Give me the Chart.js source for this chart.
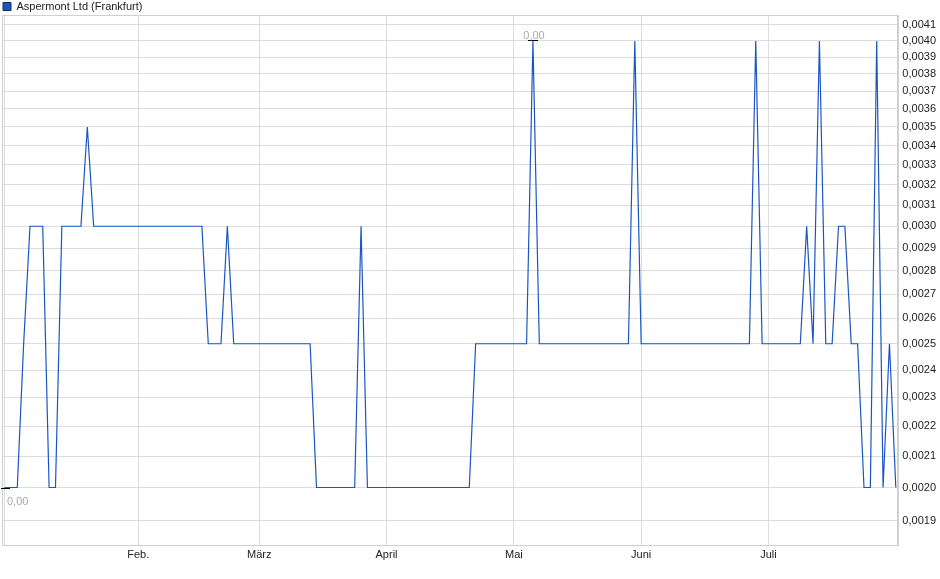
<!DOCTYPE html>
<html>
<head>
<meta charset="utf-8">
<style>
  body { margin: 0; background: #fff; }
  #wrap { width: 940px; height: 579px; position: relative; }
</style>
</head>
<body>
<div id="wrap"><canvas id="myChart"></canvas></div>

<script src="https://cdn.jsdelivr.net/npm/chart.js@4.4.1/dist/chart.umd.min.js"></script>
<script>
    const seriesName = "Aspermont Ltd (Frankfurt)";

    // closing prices, one per trading day, Jan .. Jul
    const janPrices = [0.0020,0.0020,0.0020,0.0025,0.0030,0.0030,0.0030,0.0020,0.0020,0.0030,0.0030,
                       0.0030,0.0030,0.0035,0.0030,0.0030,0.0030,0.0030,0.0030,0.0030,0.0030];
    const febPrices = [0.0030,0.0030,0.0030,0.0030,0.0030,0.0030,0.0030,0.0030,0.0030,0.0030,0.0030,
                       0.0025,0.0025,0.0025,0.0030,0.0025,0.0025,0.0025,0.0025];
    const marPrices = [0.0025,0.0025,0.0025,0.0025,0.0025,0.0025,0.0025,0.0025,0.0025,0.0020,
                       0.0020,0.0020,0.0020,0.0020,0.0020,0.0020,0.0030,0.0020,0.0020,0.0020];
    const aprPrices = [0.0020,0.0020,0.0020,0.0020,0.0020,0.0020,0.0020,0.0020,0.0020,0.0020,
                       0.0020,0.0020,0.0020,0.0020,0.0025,0.0025,0.0025,0.0025,0.0025,0.0025];
    const mayPrices = [0.0025,0.0025,0.0025,0.0040,0.0025,0.0025,0.0025,0.0025,0.0025,0.0025,
                       0.0025,0.0025,0.0025,0.0025,0.0025,0.0025,0.0025,0.0025,0.0025,0.0040];
    const junPrices = [0.0025,0.0025,0.0025,0.0025,0.0025,0.0025,0.0025,0.0025,0.0025,0.0025,
                       0.0025,0.0025,0.0025,0.0025,0.0025,0.0025,0.0025,0.0025,0.0040,0.0025];
    const julPrices = [0.0025,0.0025,0.0025,0.0025,0.0025,0.0025,0.0030,0.0025,0.0040,0.0025,0.0025,
                       0.0030,0.0030,0.0025,0.0025,0.0020,0.0020,0.0040,0.0020,0.0025,0.0020];

    // first trading day of each month (index into the series) and its label
    const monthStart = [0, 21, 40, 60, 80, 100, 120];
    const monthLabels = ["", "Feb.", "März", "April", "Mai", "Juni", "Juli"];

    const yTicks = [0.0019,0.0020,0.0021,0.0022,0.0023,0.0024,0.0025,0.0026,0.0027,0.0028,0.0029,
                    0.0030,0.0031,0.0032,0.0033,0.0034,0.0035,0.0036,0.0037,0.0038,0.0039,0.0040,0.0041];

    const prices = [].concat(janPrices, febPrices, marPrices, aprPrices, mayPrices, junPrices, julPrices);
    const points = prices.map((p, i) => ({x: i, y: p}));

    const lineColor = "#1a55c4";
    const gridColor = "#dcdcdc";

    Chart.defaults.font.family = '"Liberation Sans", Arial, sans-serif';
    Chart.defaults.font.size = 11;
    Chart.defaults.color = "#222";

    const fmt = (v, d) => v.toFixed(d).replace(".", ",");

    // min / max markers like the original chart
    const extremes = {
        id: "extremes",
        afterDatasetsDraw(chart) {
            const xs = chart.scales.x, ys = chart.scales.y, ctx = chart.ctx;
            const hi = prices.indexOf(Math.max(...prices));
            const lo = prices.indexOf(Math.min(...prices));
            ctx.save();
            ctx.strokeStyle = "#000";
            ctx.lineWidth = 1;
            ctx.font = '11px "Liberation Sans", Arial, sans-serif';
            ctx.fillStyle = "#a3acb9";
            let x = Math.round(xs.getPixelForValue(hi)), y = Math.round(ys.getPixelForValue(prices[hi])) - 0.5;
            ctx.beginPath(); ctx.moveTo(x - 5, y); ctx.lineTo(x + 5, y); ctx.stroke();
            ctx.textAlign = "center";
            ctx.fillText(fmt(prices[hi], 2), x + 1, y - 5);
            x = Math.round(xs.getPixelForValue(lo)); y = Math.round(ys.getPixelForValue(prices[lo])) + 0.5;
            ctx.beginPath(); ctx.moveTo(x - 4, y); ctx.lineTo(x + 5, y); ctx.stroke();
            ctx.textAlign = "left";
            ctx.fillText(fmt(prices[lo], 2), x + 2, y + 13);
            ctx.restore();
        }
    };

    // frame around the plot, and a tighter legend box
    const frame = {
        id: "frame",
        beforeLayout(chart) {
            const lg = chart.legend;
            if (lg && !lg._patched) {
                const fit = lg.fit;
                lg.fit = function () { fit.call(this); this.height -= 7; };
                lg._patched = true;
            }
        },
        beforeDatasetsDraw(chart) {
            const a = chart.chartArea, ctx = chart.ctx;
            ctx.save();
            ctx.strokeStyle = "#d0d0d0";
            ctx.lineWidth = 1;
            ctx.strokeRect(Math.round(a.left) + 0.5, Math.round(a.top) + 0.5,
                Math.round(a.right - a.left) - 1, Math.round(a.bottom - a.top) - 1);
            ctx.restore();
        }
    };

    const myChart = new Chart("myChart", {
        type: "line",
        data: {
            datasets: [{
                label: seriesName,
                data: points,
                borderColor: lineColor,
                backgroundColor: lineColor,
                borderWidth: 1.2,
                pointRadius: 0,
                tension: 0,
                fill: false
            }]
        },
        options: {
            responsive: true,
            maintainAspectRatio: false,
            animation: false,
            layout: {padding: {left: 2, right: 0, top: 0, bottom: 14}},
            plugins: {
                legend: {
                    position: "top",
                    align: "start",
                    labels: {
                        boxWidth: 8,
                        boxHeight: 8,
                        padding: 1,
                        color: "#222",
                        generateLabels(chart) {
                            const items = Chart.defaults.plugins.legend.labels.generateLabels(chart);
                            items.forEach(it => { it.strokeStyle = "#1b2b55"; it.lineWidth = 1; });
                            return items;
                        }
                    }
                },
                tooltip: {enabled: false}
            },
            scales: {
                x: {
                    type: "linear",
                    min: -0.4,
                    max: 140.4,
                    afterBuildTicks: (scale) => { scale.ticks = monthStart.map(v => ({value: v})); },
                    ticks: {
                        autoSkip: false,
                        maxRotation: 0,
                        padding: 3,
                        color: "#222",
                        callback: (v) => monthLabels[monthStart.indexOf(v)]
                    },
                    grid: {color: gridColor, drawTicks: false},
                    border: {color: "#d0d0d0"}
                },
                y: {
                    type: "logarithmic",
                    position: "right",
                    min: 0.001827,
                    max: 0.004164,
                    afterBuildTicks: (scale) => { scale.ticks = yTicks.map(v => ({value: v})); },
                    ticks: {
                        autoSkip: false,
                        padding: 4,
                        color: "#222",
                        callback: (v) => fmt(v, 4)
                    },
                    grid: {color: gridColor, drawTicks: false},
                    border: {color: "#d0d0d0"}
                }
            }
        },
        plugins: [extremes, frame]
    });
</script>
</body>
</html>
